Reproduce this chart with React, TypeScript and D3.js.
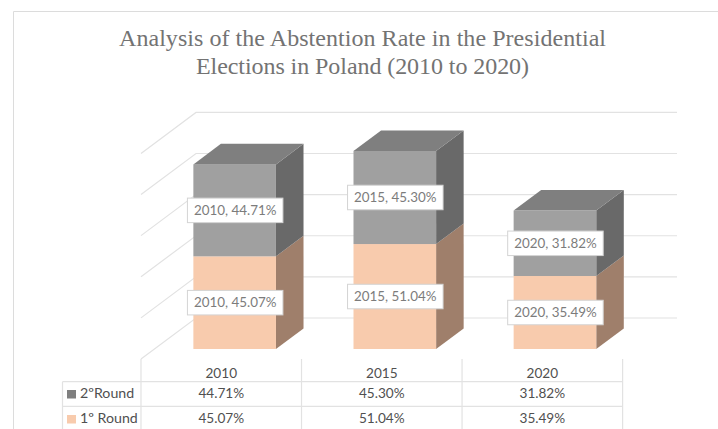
import React from "react";
import * as d3 from "d3";

const years = ["2010", "2015", "2020"];
const firstRound = [45.07, 51.04, 35.49];
const secondRound = [44.71, 45.3, 31.82];
const gridTicks = [0, 20, 40, 60, 80, 100];
const titleLines = [
  "Analysis of the Abstention Rate in the Presidential",
  "Elections in Poland (2010 to 2020)",
];
const seriesNames = ["2ºRound", "1º Round"];

const W = 718;
const H = 429;
const SANS = "Lato, Carlito, 'Open Sans', sans-serif";
const GRID = "#e2e2e2";

// floor / wall projection
const floorX = 141;
const floorY = 359;
const depthX = 55;
const depthY = -41;
const wallRight = 677;
const valueScale = d3.scaleLinear().domain([0, 100]).range([0, 205.6]);
const xBand = d3.scaleBand().domain(years).range([floorX, 622.6]);
const barScale = d3.scaleBand().domain(years).range([141.2, 621.6]);
const barFrontT = 0.244;
const barBackT = 0.745;
const barWidth = 82.6;
const barOffset = 13.4 + (barScale.bandwidth() - barWidth) / 2;

const fx = (year: string) => (barScale(year) as number) + barOffset;
const frontBase = floorY + depthY * barFrontT;
const dx = depthX * (barBackT - barFrontT);
const dy = depthY * (barBackT - barFrontT);

const poly = (pts: [number, number][]) => pts.map((p) => p.join(",")).join(" ");

function Segment({ year, bottom, value, front, side, top }: any) {
  const x0 = fx(year);
  const x1 = x0 + barWidth;
  const yb = frontBase - valueScale(bottom);
  const yt = frontBase - valueScale(bottom + value);
  return (
    <g>
      <polygon points={poly([[x1, yb], [x1 + dx, yb + dy], [x1 + dx, yt + dy], [x1, yt]])} fill={side} />
      <rect x={x0} y={yt} width={barWidth} height={yb - yt} fill={front} />
      {top && <polygon points={poly([[x0, yt], [x0 + dx, yt + dy], [x1 + dx, yt + dy], [x1, yt]])} fill={top} />}
    </g>
  );
}

function Label({ year, bottom, value }: any) {
  const cx = fx(year) + barWidth / 2 + 0.5;
  const cy = frontBase - valueScale(bottom + value / 2);
  const w = 95.5;
  const h = 24.5;
  return (
    <g>
      <rect x={cx - w / 2} y={cy - h / 2} width={w} height={h} fill="#fff" stroke="#d4d4d4" strokeWidth={1} />
      <text x={cx} y={cy + 4.8} textAnchor="middle" fontFamily={SANS} fontSize={13.4} fill="#7c7c7c">
        {`${year}, ${value.toFixed(2)}%`}
      </text>
    </g>
  );
}

export default function App() {
  const rowTop = [381.7, 406.3];
  const rowBase = [398, 423];
  const rows = [secondRound, firstRound];
  const swatches = ["#7f7f7f", "#f8cbad"];
  const titleWidths = [487, 333];
  return (
    <svg
      width={W}
      height={H}
      viewBox={`0 0 ${W} ${H}`}
      style={{ position: "absolute", left: 0, top: 0, background: "#fff" }}
    >
      <path d={`M13.5,${H}V11.5H${W}`} fill="none" stroke="#dcdcdc" strokeWidth={1} />

      {titleLines.map((t, i) => (
        <text
          key={t}
          x={362.5}
          y={46 + i * 28}
          textAnchor="middle"
          textLength={titleWidths[i]}
          lengthAdjust="spacing"
          fontFamily="'Liberation Serif', serif"
          fontSize={24}
          fill="#737373"
        >
          {t}
        </text>
      ))}

      {gridTicks.map((t) => {
        const y = floorY - valueScale(t);
        return (
          <path
            key={t}
            d={`M${floorX},${y}L${floorX + depthX},${y + depthY}H${wallRight}`}
            fill="none"
            stroke={GRID}
            strokeWidth={1.2}
          />
        );
      })}

      {years.map((year, i) => (
        <g key={year}>
          <Segment year={year} bottom={0} value={firstRound[i]} front="#f8cbad" side="#9f7f6b" />
          <Segment
            year={year}
            bottom={firstRound[i]}
            value={secondRound[i]}
            front="#a0a0a0"
            side="#696969"
            top="#7f7f7f"
          />
        </g>
      ))}

      {years.map((year, i) => (
        <g key={year}>
          <Label year={year} bottom={0} value={firstRound[i]} />
          <Label year={year} bottom={firstRound[i]} value={secondRound[i]} />
        </g>
      ))}

      {/* data table */}
      <g stroke={GRID} strokeWidth={1.2} fill="none">
        {[...years.map((y) => xBand(y) as number), xBand.range()[1]].map((x) => (
          <line key={x} x1={x} x2={x} y1={floorY} y2={H} />
        ))}
        <line x1={62.5} x2={62.5} y1={rowTop[0]} y2={H} />
        {rowTop.map((y) => (
          <line key={y} x1={62.5} x2={xBand.range()[1]} y1={y} y2={y} />
        ))}
      </g>
      {years.map((year, i) => {
        const cx = (xBand(year) as number) + xBand.bandwidth() / 2;
        return (
          <g key={year} fontFamily={SANS} fontSize={13.6} fill="#505050" textAnchor="middle">
            <text x={cx} y={377.7}>{year}</text>
            {rows.map((r, j) => (
              <text key={j} x={cx} y={rowBase[j]}>{r[i].toFixed(2)}%</text>
            ))}
          </g>
        );
      })}
      {seriesNames.map((name, j) => (
        <g key={name}>
          <rect x={67} y={rowBase[j] - 8} width={9} height={8.5} fill={swatches[j]} />
          <text x={80} y={rowBase[j]} fontFamily={SANS} fontSize={14.2} fill="#505050">
            {name}
          </text>
        </g>
      ))}
    </svg>
  );
}
